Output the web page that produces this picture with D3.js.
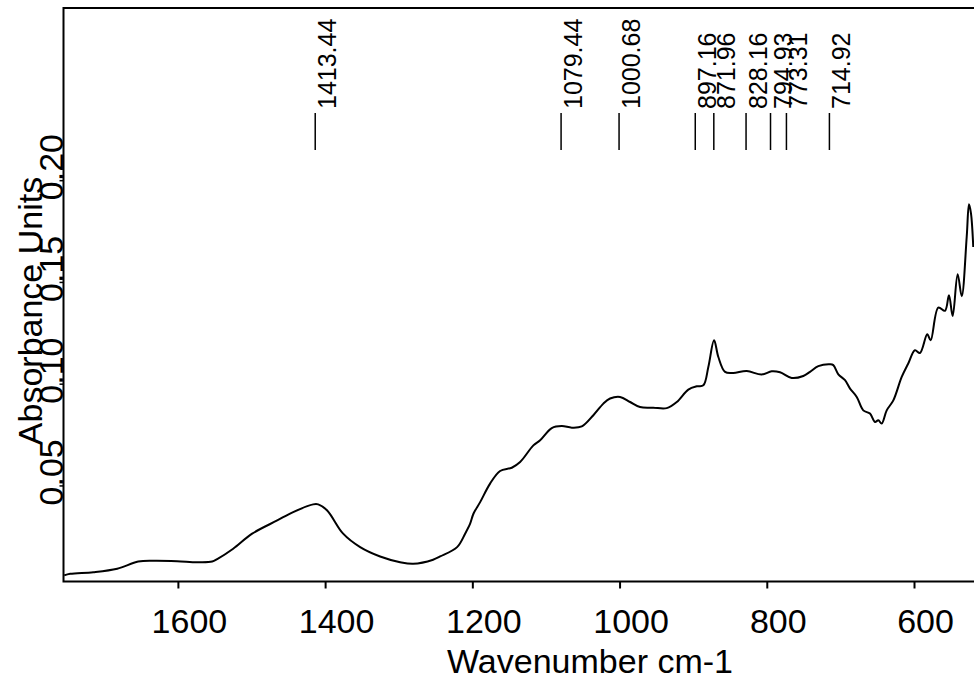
<!DOCTYPE html>
<html>
<head>
<meta charset="utf-8">
<script src="https://cdn.jsdelivr.net/npm/d3@7"></script>
<style>
  html, body { margin: 0; padding: 0; background: #fff; }
  svg { display: block; }
  text { font-family: "Liberation Sans", Arial, sans-serif; fill: #000; }
</style>
</head>
<body>
<script>
// Spectrum (wavenumber cm-1, absorbance)
const wavenumbers = [
  1754.4, 1746.3, 1715.0, 1682.4, 1653.9, 1633.5, 1601.0, 1573.8, 1553.4, 1546.6,
  1524.9, 1499.1, 1465.1, 1443.4, 1416.2, 1409.4, 1397.2, 1375.5, 1352.4, 1325.3,
  1298.1, 1280.4, 1253.3, 1243.8, 1220.7, 1209.8, 1203.0, 1198.5, 1189.4, 1175.9,
  1162.3, 1146.4, 1135.1, 1117.1, 1107.9, 1092.1, 1078.5, 1064.9, 1051.3, 1035.6,
  1022.0, 1012.9, 999.3, 985.7, 972.2, 954.1, 935.9, 922.3, 906.6, 895.1,
  886.2, 879.4, 871.6, 865.8, 856.7, 845.5, 827.2, 806.9, 793.3, 782.0,
  766.1, 750.4, 741.3, 730.0, 714.1, 709.6, 702.8, 693.7, 686.9, 677.8,
  668.9, 659.8, 653.0, 648.5, 643.9, 637.1, 628.1, 616.7, 607.8, 598.7,
  591.9, 582.0, 577.4, 567.0, 557.9, 552.5, 547.5, 540.7, 535.2, 528.4,
  525.3, 522.6, 519.5
];
const absorbance = [
  0.0058, 0.0066, 0.0074, 0.0091, 0.0126, 0.0130, 0.0128, 0.0123, 0.0126, 0.0138,
  0.0189, 0.0263, 0.0328, 0.0369, 0.0407, 0.0407, 0.0377, 0.0263, 0.0197, 0.0151,
  0.0123, 0.0115, 0.0135, 0.0151, 0.0197, 0.0263, 0.0312, 0.0361, 0.0418, 0.0509,
  0.0571, 0.0587, 0.0615, 0.0697, 0.0722, 0.0782, 0.0792, 0.0784, 0.0790, 0.0845,
  0.0902, 0.0927, 0.0935, 0.0910, 0.0885, 0.0882, 0.0880, 0.0910, 0.0971, 0.0987,
  0.0992, 0.1082, 0.1213, 0.1131, 0.1058, 0.1053, 0.1062, 0.1045, 0.1061, 0.1056,
  0.1028, 0.1038, 0.1058, 0.1086, 0.1095, 0.1091, 0.1046, 0.1017, 0.0976, 0.0935,
  0.0869, 0.0853, 0.0812, 0.0820, 0.0804, 0.0869, 0.0918, 0.1033, 0.1099, 0.1164,
  0.1151, 0.1243, 0.1213, 0.1374, 0.1358, 0.1435, 0.1332, 0.1538, 0.1430, 0.1722,
  0.1882, 0.1837, 0.1672
];
const peakLabels = [1413.44, 1079.44, 1000.68, 897.16, 871.96, 828.16, 794.93, 773.31, 714.92];
const xTicks = [1600, 1400, 1200, 1000, 800, 600];
const yTicks = [0.05, 0.10, 0.15, 0.20];
const xDomain = [1755.4, 518.5];
const yDomain = [0.0028, 0.2846];

const width = 974, height = 681;
const margin = { left: 63.5, top: 8, bottom: 581.5, right: 974 };

const svg = d3.select("body").append("svg")
  .attr("width", width).attr("height", height)
  .attr("viewBox", `0 0 ${width} ${height}`);

const x = d3.scaleLinear().domain(xDomain).range([margin.left, margin.right]);
const y = d3.scaleLinear().domain(yDomain).range([margin.bottom, margin.top]);

const data = wavenumbers.map((w, i) => [w, absorbance[i]]);

// spectrum
svg.append("path")
  .datum(data)
  .attr("fill", "none")
  .attr("stroke", "#000")
  .attr("stroke-width", 2)
  .attr("stroke-linejoin", "round")
  .attr("d", d3.line().x(d => x(d[0])).y(d => y(d[1])).curve(d3.curveCatmullRom.alpha(0.5)));

// frame (right side runs off the picture)
svg.append("rect")
  .attr("x", margin.left).attr("y", margin.top)
  .attr("width", margin.right - margin.left + 10).attr("height", margin.bottom - margin.top)
  .attr("fill", "none").attr("stroke", "#000").attr("stroke-width", 2);

// x axis
const gx = svg.append("g")
  .attr("transform", `translate(0,${margin.bottom})`)
  .call(d3.axisBottom(x).tickValues(xTicks).tickSize(7).tickPadding(20).tickFormat(d3.format("d")));
gx.select(".domain").remove();
gx.selectAll(".tick line").attr("stroke", "#000").attr("stroke-width", 2);
gx.selectAll(".tick text")
  .attr("dx", 11)
  .style("font-size", "34px")
  .style("font-family", "'Liberation Sans', Arial, sans-serif")
  .attr("fill", "#000");

svg.append("text")
  .attr("x", 590).attr("y", 673)
  .attr("text-anchor", "middle")
  .style("font-size", "34px")
  .text("Wavenumber cm-1");

// y axis: ticks from the axis, labels rotated like the original
const gy = svg.append("g")
  .attr("transform", `translate(${margin.left},0)`)
  .call(d3.axisLeft(y).tickValues(yTicks).tickSize(4).tickFormat(""));
gy.select(".domain").remove();
gy.selectAll(".tick line").attr("stroke", "#000").attr("stroke-width", 1.5);

svg.append("g").selectAll("text")
  .data(yTicks)
  .join("text")
  .attr("transform", d => `translate(${margin.left - 1},${y(d) + 20}) rotate(-90)`)
  .attr("text-anchor", "start")
  .style("font-size", "34px")
  .text(d => d3.format(".2f")(d));

svg.append("text")
  .attr("transform", `translate(42,311) rotate(-90)`)
  .attr("text-anchor", "middle")
  .style("font-size", "34px")
  .text("Absorbance Units");

// peak markers
const pk = svg.append("g").selectAll("g")
  .data(peakLabels)
  .join("g")
  .attr("transform", d => `translate(${x(d)},0)`);
pk.append("line")
  .attr("y1", 113).attr("y2", 150)
  .attr("stroke", "#000").attr("stroke-width", 1.5);
pk.append("text")
  .attr("transform", "translate(21,109) rotate(-90)")
  .attr("text-anchor", "start")
  .style("font-size", "25px")
  .text(d => d3.format(".2f")(d));
</script>
</body>
</html>
